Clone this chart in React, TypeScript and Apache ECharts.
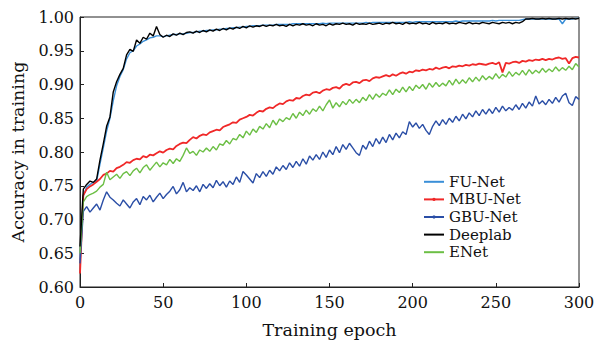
import React, { useEffect, useRef } from "react";
import * as echarts from "echarts";

const epochs = [
  0, 2, 4, 6, 8, 10, 12, 14, 16, 18, 20, 22, 24, 26, 28, 30, 32, 34, 36, 38,
  40, 42, 44, 46, 48, 50, 52, 54, 56, 58, 60, 62, 64, 66, 68, 70, 72, 74, 76, 78,
  80, 82, 84, 86, 88, 90, 92, 94, 96, 98, 100, 102, 104, 106, 108, 110, 112, 114, 116, 118,
  120, 122, 124, 126, 128, 130, 132, 134, 136, 138, 140, 142, 144, 146, 148, 150, 152, 154, 156, 158,
  160, 162, 164, 166, 168, 170, 172, 174, 176, 178, 180, 182, 184, 186, 188, 190, 192, 194, 196, 198,
  200, 202, 204, 206, 208, 210, 212, 214, 216, 218, 220, 222, 224, 226, 228, 230, 232, 234, 236, 238,
  240, 242, 244, 246, 248, 250, 252, 254, 256, 258, 260, 262, 264, 266, 268, 270, 272, 274, 276, 278,
  280, 282, 284, 286, 288, 290, 292, 294, 296, 298, 300,
];

const fuNet = [
  0.640, 0.735, 0.748, 0.752, 0.755, 0.757, 0.782, 0.806, 0.831, 0.850,
  0.876, 0.898, 0.912, 0.922, 0.938, 0.947, 0.950, 0.957, 0.960, 0.964,
  0.966, 0.969, 0.970, 0.972, 0.972, 0.971, 0.972, 0.973, 0.974, 0.974,
  0.975, 0.975, 0.976, 0.977, 0.977, 0.978, 0.979, 0.979, 0.980, 0.980,
  0.981, 0.981, 0.982, 0.982, 0.983, 0.983, 0.984, 0.984, 0.985, 0.985,
  0.986, 0.986, 0.987, 0.987, 0.987, 0.988, 0.988, 0.988, 0.988, 0.989,
  0.989, 0.989, 0.989, 0.989, 0.990, 0.990, 0.990, 0.990, 0.990, 0.990,
  0.990, 0.990, 0.990, 0.991, 0.990, 0.991, 0.991, 0.991, 0.991, 0.991,
  0.991, 0.991, 0.991, 0.991, 0.991, 0.991, 0.992, 0.991, 0.992, 0.992,
  0.992, 0.992, 0.992, 0.992, 0.992, 0.992, 0.992, 0.992, 0.992, 0.993,
  0.992, 0.993, 0.993, 0.993, 0.993, 0.993, 0.993, 0.993, 0.993, 0.993,
  0.993, 0.993, 0.993, 0.994, 0.993, 0.994, 0.994, 0.994, 0.994, 0.994,
  0.994, 0.994, 0.994, 0.994, 0.995, 0.994, 0.995, 0.995, 0.995, 0.995,
  0.995, 0.995, 0.995, 0.996, 0.997, 0.997, 0.997, 0.997, 0.997, 0.997,
  0.997, 0.997, 0.997, 0.997, 0.997, 0.990, 0.997, 0.997, 0.997, 0.998,
  0.998,
];

const mbuNet = [
  0.620, 0.736, 0.745, 0.749, 0.752, 0.756, 0.760, 0.766, 0.768, 0.772,
  0.771, 0.776, 0.778, 0.781, 0.785, 0.784, 0.788, 0.790, 0.789, 0.794,
  0.792, 0.796, 0.795, 0.798, 0.801, 0.799, 0.803, 0.805, 0.804, 0.809,
  0.812, 0.814, 0.813, 0.818, 0.822, 0.820, 0.824, 0.826, 0.825, 0.829,
  0.831, 0.833, 0.832, 0.837, 0.839, 0.841, 0.844, 0.843, 0.848, 0.850,
  0.852, 0.855, 0.854, 0.858, 0.861, 0.860, 0.864, 0.866, 0.865, 0.869,
  0.872, 0.871, 0.875, 0.877, 0.876, 0.880, 0.879, 0.883, 0.885, 0.884,
  0.888, 0.889, 0.887, 0.891, 0.893, 0.892, 0.895, 0.896, 0.894, 0.899,
  0.901, 0.899, 0.903, 0.904, 0.902, 0.906, 0.907, 0.905, 0.909, 0.911,
  0.910, 0.912, 0.914, 0.912, 0.915, 0.913, 0.916, 0.918, 0.916, 0.919,
  0.918, 0.921, 0.920, 0.922, 0.921, 0.923, 0.922, 0.925, 0.923, 0.925,
  0.926, 0.924, 0.927, 0.926, 0.928, 0.927, 0.929, 0.928, 0.930, 0.929,
  0.931, 0.930, 0.929, 0.931, 0.932, 0.930, 0.933, 0.918, 0.932, 0.931,
  0.933, 0.934, 0.932, 0.935, 0.934, 0.936, 0.935, 0.937, 0.936, 0.938,
  0.936, 0.938, 0.937, 0.939, 0.940, 0.938, 0.939, 0.931, 0.939, 0.941,
  0.940,
];

const gbuNet = [
  0.635, 0.712, 0.719, 0.711, 0.717, 0.723, 0.714, 0.729, 0.741, 0.733,
  0.729, 0.724, 0.720, 0.729, 0.723, 0.717, 0.726, 0.731, 0.722, 0.734,
  0.729, 0.736, 0.726, 0.733, 0.739, 0.731, 0.737, 0.742, 0.749, 0.738,
  0.744, 0.755, 0.741, 0.747, 0.743, 0.750, 0.741, 0.752, 0.746, 0.753,
  0.747, 0.758, 0.750, 0.756, 0.748, 0.757, 0.752, 0.763, 0.755, 0.771,
  0.766, 0.760, 0.754, 0.768, 0.762, 0.771, 0.764, 0.773, 0.767, 0.778,
  0.772, 0.780, 0.774, 0.784, 0.777, 0.786, 0.779, 0.790, 0.782, 0.794,
  0.788, 0.796, 0.789, 0.800, 0.792, 0.803, 0.796, 0.808, 0.799, 0.811,
  0.804, 0.813, 0.806, 0.799, 0.795, 0.810, 0.804, 0.816, 0.808, 0.820,
  0.812, 0.822, 0.814, 0.826, 0.818, 0.828, 0.821, 0.830, 0.826, 0.845,
  0.837, 0.843, 0.835, 0.841, 0.832, 0.826, 0.838, 0.846, 0.839, 0.848,
  0.841, 0.850, 0.844, 0.853, 0.846, 0.856, 0.849, 0.858, 0.852, 0.861,
  0.854, 0.863, 0.856, 0.864, 0.857, 0.866, 0.859, 0.868, 0.861, 0.866,
  0.862, 0.870, 0.863, 0.872, 0.865, 0.874, 0.868, 0.883, 0.871, 0.876,
  0.870, 0.878, 0.872, 0.881, 0.874, 0.883, 0.887, 0.873, 0.869, 0.882,
  0.878,
];

const deeplab = [
  0.660, 0.745, 0.752, 0.757, 0.755, 0.760, 0.788, 0.812, 0.838, 0.852,
  0.889, 0.904, 0.915, 0.924, 0.944, 0.952, 0.949, 0.966, 0.961, 0.970,
  0.967, 0.976, 0.972, 0.986, 0.974, 0.970, 0.973, 0.971, 0.975, 0.973,
  0.976, 0.974, 0.977, 0.978, 0.976, 0.979, 0.977, 0.980, 0.978, 0.981,
  0.979, 0.982, 0.980, 0.983, 0.981, 0.984, 0.982, 0.985, 0.983, 0.986,
  0.984, 0.987, 0.985, 0.987, 0.986, 0.988, 0.986, 0.988, 0.987, 0.989,
  0.987, 0.988, 0.986, 0.989, 0.987, 0.989, 0.988, 0.990, 0.988, 0.989,
  0.987, 0.990, 0.988, 0.989, 0.987, 0.990, 0.988, 0.990, 0.989, 0.991,
  0.989, 0.990, 0.988, 0.991, 0.989, 0.990, 0.989, 0.991, 0.989, 0.990,
  0.991, 0.989, 0.991, 0.990, 0.992, 0.990, 0.991, 0.989, 0.992, 0.990,
  0.991, 0.990, 0.992, 0.990, 0.991, 0.989, 0.992, 0.990, 0.991, 0.990,
  0.992, 0.990, 0.991, 0.990, 0.992, 0.991, 0.990, 0.992, 0.990, 0.991,
  0.990, 0.992, 0.991, 0.990, 0.992, 0.991, 0.990, 0.992, 0.991, 0.992,
  0.990, 0.992, 0.991, 0.993, 0.997, 0.997, 0.998, 0.997, 0.997, 0.998,
  0.997, 0.998, 0.997, 0.997, 0.998, 0.997, 0.998, 0.997, 0.998, 0.997,
  0.998,
];

const eNet = [
  0.650, 0.726, 0.734, 0.737, 0.739, 0.742, 0.748, 0.752, 0.770, 0.759,
  0.763, 0.767, 0.761, 0.768, 0.771, 0.765, 0.772, 0.776, 0.769, 0.777,
  0.781, 0.773, 0.779, 0.785, 0.778, 0.784, 0.781, 0.789, 0.783, 0.790,
  0.786, 0.795, 0.806, 0.798, 0.801, 0.795, 0.803, 0.800, 0.806, 0.801,
  0.808, 0.803, 0.812, 0.810, 0.817, 0.812, 0.820, 0.818, 0.826, 0.821,
  0.831, 0.825, 0.834, 0.829, 0.838, 0.834, 0.842, 0.836, 0.847, 0.840,
  0.849, 0.845, 0.851, 0.848, 0.857, 0.850, 0.859, 0.854, 0.862, 0.856,
  0.864, 0.860, 0.868, 0.861, 0.870, 0.877, 0.865, 0.873, 0.867, 0.875,
  0.870, 0.878, 0.872, 0.878, 0.873, 0.881, 0.876, 0.885, 0.878, 0.886,
  0.881, 0.887, 0.884, 0.892, 0.885, 0.893, 0.888, 0.896, 0.889, 0.897,
  0.891, 0.899, 0.894, 0.900, 0.893, 0.902, 0.896, 0.903, 0.897, 0.902,
  0.898, 0.906, 0.899, 0.908, 0.901, 0.907, 0.902, 0.910, 0.904, 0.911,
  0.905, 0.913, 0.907, 0.912, 0.908, 0.916, 0.909, 0.915, 0.911, 0.919,
  0.912, 0.918, 0.914, 0.921, 0.914, 0.922, 0.916, 0.921, 0.917, 0.924,
  0.918, 0.923, 0.919, 0.926, 0.920, 0.925, 0.921, 0.927, 0.922, 0.931,
  0.926,
];

const seriesNames = ["FU-Net", "MBU-Net", "GBU-Net", "Deeplab", "ENet"];
const seriesColors = ["#3a8fd8", "#f02828", "#2a4ea6", "#000000", "#6cbf45"];
const seriesValues = [fuNet, mbuNet, gbuNet, deeplab, eNet];
const withMarker = [false, true, true, false, false];

const FONT = "DejaVu Serif";

export default function App() {
  const ref = useRef<HTMLDivElement>(null);
  useEffect(() => {
    if (!ref.current) return;
    const chart = echarts.init(ref.current, null, { renderer: "svg" });
    const series = seriesNames.map((name, k) => ({
      name,
      type: "line",
      data: epochs.map((e, i) => [e, seriesValues[k][i]]),
      symbol: withMarker[k] ? "circle" : "none",
      symbolSize: 3,
      showSymbol: false,
      lineStyle: { color: seriesColors[k], width: k === 1 ? 1.8 : 1.4 },
      itemStyle: { color: seriesColors[k] },
      z: k === 3 ? 5 : 2,
    }));
    chart.setOption({
      animation: false,
      backgroundColor: "#ffffff",
      grid: {
        left: 80,
        right: 19,
        top: 17,
        bottom: 52,
        show: true,
        borderColor: "#222",
        borderWidth: 1,
        backgroundColor: "transparent",
      },
      legend: {
        orient: "vertical",
        left: 423,
        top: 173,
        padding: 0,
        itemWidth: 20,
        itemHeight: 4,
        itemGap: 0,
        textStyle: { fontFamily: FONT, fontSize: 15, lineHeight: 17.6, color: "#111" },
        data: seriesNames.map((name, k) =>
          withMarker[k] ? { name } : { name, itemStyle: { opacity: 0 } }
        ),
      },
      xAxis: {
        type: "value",
        min: 0,
        max: 300,
        interval: 50,
        name: "Training epoch",
        nameLocation: "middle",
        nameGap: 34,
        nameTextStyle: { fontFamily: FONT, fontSize: 17.5, color: "#111" },
        axisLine: { show: true, lineStyle: { color: "#222", width: 1 } },
        axisTick: { show: true, inside: true, length: 4, lineStyle: { color: "#222" } },
        axisLabel: { fontFamily: FONT, fontSize: 16, color: "#111", margin: 7 },
        splitLine: { show: false },
      },
      yAxis: {
        type: "value",
        min: 0.6,
        max: 1.0,
        interval: 0.05,
        name: "Accuracy in training",
        nameLocation: "middle",
        nameGap: 49,
        nameTextStyle: { fontFamily: FONT, fontSize: 17.5, color: "#111" },
        axisLine: { show: true, lineStyle: { color: "#222", width: 1 } },
        axisTick: { show: true, inside: true, length: 4, lineStyle: { color: "#222" } },
        axisLabel: {
          fontFamily: FONT,
          fontSize: 16,
          color: "#111",
          margin: 6,
          formatter: (v: number) => v.toFixed(2),
        },
        splitLine: { show: false },
      },
      series,
    });
    return () => chart.dispose();
  }, []);
  return (
    <div
      ref={ref}
      style={{ position: "fixed", left: 0, top: 0, width: 598, height: 344, background: "#fff" }}
    />
  );
}
